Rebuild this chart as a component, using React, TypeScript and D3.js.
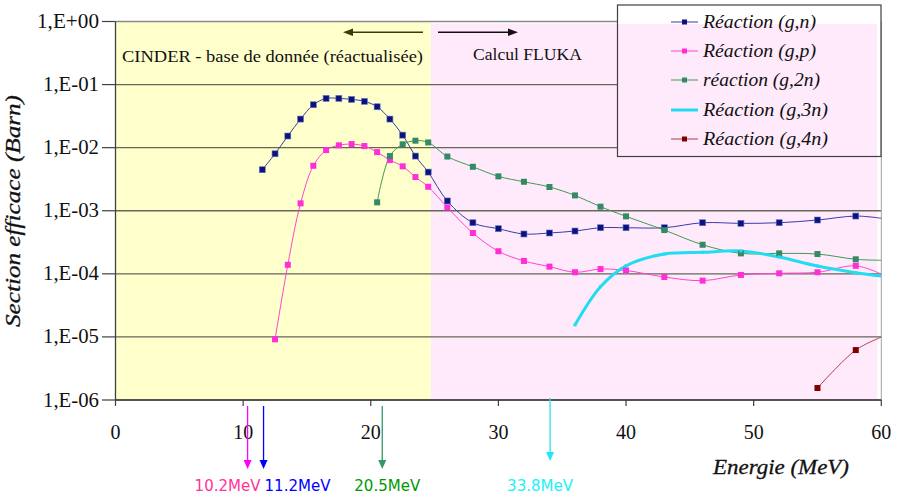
import React from "react";
import * as d3 from "d3";

// ---- data ----
const energyN = [11.5, 12.5, 13.5, 14.5, 15.5, 16.5, 17.5, 18.5, 19.5, 20.5, 21.5, 22.5, 23.5, 24.5, 26, 28, 30, 32, 34, 36, 38, 40, 43, 46, 49, 52, 55, 58, 60];
const valueN = [4.47e-3, 8.0e-3, 1.53e-2, 2.84e-2, 4.79e-2, 6.04e-2, 6.04e-2, 5.82e-2, 5.42e-2, 4.45e-2, 2.84e-2, 1.58e-2, 7.36e-3, 4.1e-3, 1.43e-3, 6.46e-4, 5.19e-4, 4.28e-4, 4.44e-4, 4.77e-4, 5.38e-4, 5.38e-4, 5.38e-4, 6.46e-4, 6.31e-4, 6.46e-4, 7.13e-4, 8.24e-4, 7.6e-4];

const energyP = [12.5, 13.5, 14.5, 15.5, 16.5, 17.5, 18.5, 19.5, 20.5, 21.5, 22.5, 23.5, 24.5, 26, 28, 30, 32, 34, 36, 38, 40, 43, 46, 49, 52, 55, 58, 60];
const valueP = [9.16e-6, 1.39e-4, 1.31e-3, 5.16e-3, 9.16e-3, 1.09e-2, 1.14e-2, 1.06e-2, 8.5e-3, 6.35e-3, 5.06e-3, 3.42e-3, 2.4e-3, 1.13e-3, 4.44e-4, 2.28e-4, 1.6e-4, 1.3e-4, 1.06e-4, 1.19e-4, 1.13e-4, 8.9e-5, 7.8e-5, 9.6e-5, 1.02e-4, 1.06e-4, 1.34e-4, 9.9e-5];

const energy2N = [20.5, 21.5, 22.5, 23.5, 24.5, 26, 28, 30, 32, 34, 36, 38, 40, 43, 46, 49, 52, 55, 58, 60];
const value2N = [1.36e-3, 7.36e-3, 1.13e-2, 1.29e-2, 1.21e-2, 7.23e-3, 4.98e-3, 3.51e-3, 2.88e-3, 2.38e-3, 1.75e-3, 1.16e-3, 8.15e-4, 4.94e-4, 2.89e-4, 2.11e-4, 2.11e-4, 2.06e-4, 1.7e-4, 1.64e-4];

const energy3N = [36, 38, 40, 43, 46, 49, 52, 55, 58, 60];
const value3N = [1.55e-5, 6.25e-5, 1.34e-4, 2.06e-4, 2.19e-4, 2.3e-4, 1.85e-4, 1.33e-4, 1.04e-4, 9.2e-5];

const energy4N = [55, 58, 60];
const value4N = [1.55e-6, 6.19e-6, 9.9e-6];

const seriesNames = ["Réaction (g,n)", "Réaction (g,p)", "réaction (g,2n)", "Réaction (g,3n)", "Réaction (g,4n)"];

const yTickValues = [1, 1e-1, 1e-2, 1e-3, 1e-4, 1e-5, 1e-6];
const yTickLabels = ["1,E+00", "1,E-01", "1,E-02", "1,E-03", "1,E-04", "1,E-05", "1,E-06"];
const xTickValues = [0, 10, 20, 30, 40, 50, 60];

const cinderLimit = 24.7; // MeV, boundary between CINDER and FLUKA zones
const thresholdLabels = ["10.2MeV", "11.2MeV", "20.5MeV", "33.8MeV"];
const thresholdArrowE = [10.35, 11.6, 20.9, 34.05];

// ---- styles ----
const seriesStyles = [
  { line: "#3b3ba8", marker: "#10107a", width: 1, ms: 6 },
  { line: "#ff44d0", marker: "#ff2ed8", width: 1, ms: 6 },
  { line: "#3d9a52", marker: "#348a64", width: 1, ms: 6 },
  { line: "#22dcf2", marker: "#22dcf2", width: 3, ms: 3 },
  { line: "#a84048", marker: "#800000", width: 1, ms: 6 },
];
const thresholdArrowColors = ["#ff00ff", "#0000ff", "#339966", "#22e6f6"];
const thresholdTextColors = ["#ff3399", "#0000ff", "#009900", "#22f0f8"];
const labelDx = [-20, 34, 5, -10];

const serif = "'Liberation Serif', 'Times New Roman', serif";

export default function App() {
  const W = 902, H = 502;
  const x = d3.scaleLinear().domain([0, 60]).range([115.5, 881.3]);
  const y = d3.scaleLog().domain([1e-6, 1]).range([400, 21.5]);

  const series = [
    { e: energyN, v: valueN },
    { e: energyP, v: valueP },
    { e: energy2N, v: value2N },
    { e: energy3N, v: value3N },
    { e: energy4N, v: value4N },
  ];

  const line = d3
    .line<[number, number]>()
    .x((d) => x(d[0]))
    .y((d) => y(d[1]))
    .curve(d3.curveCatmullRom.alpha(0.5));

  const plotTop = y(1);
  const plotBottom = y(1e-6);
  const xL = x(0), xR = x(60);

  const leg = { x: 617.5, y: 5, w: 263.5, h: 151.5 };
  const legRowY = [22, 51, 80, 110, 139];

  const arrowHead = (cx: number, tipY: number, color: string) => (
    <path d={`M${cx - 4},${tipY - 9} L${cx + 4},${tipY - 9} L${cx},${tipY} Z`} fill={color} />
  );

  return (
    <svg width={W} height={H} style={{ position: "absolute", left: 0, top: 0, background: "#fff" }}>
      <defs>
        <clipPath id="plotClip">
          <rect x={xL} y={plotTop - 2} width={xR - xL + 4} height={plotBottom - plotTop + 2} />
        </clipPath>
      </defs>
      {/* backgrounds */}
      <rect x={xL} y={plotTop} width={x(cinderLimit) - xL} height={plotBottom - plotTop} fill="#ffffcc" />
      <rect x={x(cinderLimit)} y={plotTop + 2} width={x(59.7) - x(cinderLimit)} height={plotBottom - plotTop - 2} fill="#ffeafb" />

      {/* gridlines */}
      {yTickValues.map((v, i) => (
        <line key={"g" + i} x1={xL} x2={xR} y1={y(v)} y2={y(v)} stroke={i === 0 ? "#8a8a8a" : "#66665a"} strokeWidth={1.3} />
      ))}
      {/* right border */}
      <line x1={xR} x2={xR} y1={plotTop} y2={plotBottom} stroke="#a0a0a0" strokeWidth={1} />

      {/* zone texts & arrows */}
      <text x={122} y={62} fontFamily={serif} fontSize={16.5} fill="#111" textLength={301} lengthAdjust="spacingAndGlyphs">
        CINDER - base de donnée (réactualisée)
      </text>
      <text x={473} y={60} fontFamily={serif} fontSize={16.5} fill="#111" textLength={109} lengthAdjust="spacingAndGlyphs">
        Calcul FLUKA
      </text>
      <line x1={423} x2={352} y1={32.3} y2={32.3} stroke="#3d3d00" strokeWidth={1.6} />
      <path d="M343,32.3 L353,28.5 L353,36.1 Z" fill="#3d3d00" />
      <line x1={438} x2={509} y1={32.3} y2={32.3} stroke="#111" strokeWidth={1.6} />
      <path d="M518,32.3 L508,28.5 L508,36.1 Z" fill="#111" />

      {/* series */}
      <g clipPath="url(#plotClip)">
        {series.map((s, i) => {
          const pts: [number, number][] = s.e.map((e, j) => [e, s.v[j]]);
          return (
            <path key={"l" + i} d={line(pts) || ""} fill="none" stroke={seriesStyles[i].line} strokeWidth={seriesStyles[i].width} />
          );
        })}
        {series.map((s, i) =>
          s.e.map((e, j) =>
            e < 60 ? (
              <rect
                key={"m" + i + "-" + j}
                x={x(e) - seriesStyles[i].ms / 2}
                y={y(s.v[j]) - seriesStyles[i].ms / 2}
                width={seriesStyles[i].ms}
                height={seriesStyles[i].ms}
                fill={seriesStyles[i].marker}
                stroke={i === 0 ? "#5a7cc8" : "none"}
                strokeWidth={0.6}
              />
            ) : null
          )
        )}
      </g>

      {/* axes */}
      <line x1={xL} x2={xL} y1={plotTop} y2={plotBottom} stroke="#404040" strokeWidth={1.3} />
      <line x1={xL} x2={xR} y1={plotBottom} y2={plotBottom} stroke="#404040" strokeWidth={1.3} />
      {yTickValues.map((v, i) => (
        <g key={"yt" + i}>
          <line x1={102} x2={xL} y1={y(v)} y2={y(v)} stroke="#404040" strokeWidth={1.2} />
          <text
            x={99}
            y={y(v) + 6.5}
            textAnchor="end"
            fontFamily={serif}
            fontSize={20}
            fill="#111"
            textLength={i === 0 ? 62 : 56}
            lengthAdjust="spacingAndGlyphs"
          >
            {yTickLabels[i]}
          </text>
        </g>
      ))}
      {xTickValues.map((v) => (
        <g key={"xt" + v}>
          <line x1={x(v)} x2={x(v)} y1={plotBottom} y2={plotBottom + 6} stroke="#404040" strokeWidth={1.2} />
          <text x={x(v)} y={438.5} textAnchor="middle" fontFamily={serif} fontSize={20} fill="#111">
            {v}
          </text>
        </g>
      ))}

      {/* axis titles */}
      <text
        transform="translate(20,211) rotate(-90)"
        textAnchor="middle"
        fontFamily={serif}
        fontStyle="italic"
        fontSize={21}
        fill="#111"
        stroke="#111"
        strokeWidth={0.3}
        textLength={232}
        lengthAdjust="spacingAndGlyphs"
      >
        Section efficace (Barn)
      </text>
      <text
        x={713}
        y={474}
        fontFamily={serif}
        fontStyle="italic"
        fontSize={21}
        fill="#111"
        stroke="#111"
        strokeWidth={0.3}
        textLength={136}
        lengthAdjust="spacingAndGlyphs"
      >
        Energie (MeV)
      </text>

      {/* threshold arrows */}
      {thresholdArrowE.map((e, i) => {
        const cx = x(e);
        const y0 = i === 3 ? 398 : 406;
        const tip = i === 3 ? 461 : 469;
        return (
          <g key={"ta" + i}>
            <line x1={cx} x2={cx} y1={y0} y2={tip - 8} stroke={thresholdArrowColors[i]} strokeWidth={1.3} />
            {arrowHead(cx, tip, thresholdArrowColors[i])}
            <text
              x={cx + labelDx[i]}
              y={491}
              textAnchor="middle"
              fontFamily="'DejaVu Sans', sans-serif"
              fontSize={15}
              fill={thresholdTextColors[i]}
              textLength={66}
              lengthAdjust="spacingAndGlyphs"
            >
              {thresholdLabels[i]}
            </text>
          </g>
        );
      })}

      {/* legend */}
      <rect x={leg.x} y={leg.y} width={leg.w} height={leg.h} fill="#ffffff" />
      <rect x={leg.x} y={24} width={877 - leg.x} height={leg.y + leg.h - 24} fill="#ffeafb" />
      <rect x={leg.x} y={leg.y} width={leg.w} height={leg.h} fill="none" stroke="#404040" strokeWidth={1.2} />
      {seriesNames.map((name, i) => {
        const ly = legRowY[i];
        const st = seriesStyles[i];
        const ms = i === 3 ? 2 : 5;
        return (
          <g key={"lg" + i}>
            <line x1={671} x2={698} y1={ly} y2={ly} stroke={st.line} strokeWidth={st.width} />
            <rect x={684.5 - ms / 2} y={ly - ms / 2} width={ms} height={ms} fill={st.marker} />
            <text
              x={703}
              y={ly + 6}
              fontFamily={serif}
              fontStyle="italic"
              fontSize={18.5}
              fill="#111"
              textLength={[113, 113, 117, 125, 125][i]}
              lengthAdjust="spacingAndGlyphs"
            >
              {name}
            </text>
          </g>
        );
      })}
    </svg>
  );
}
